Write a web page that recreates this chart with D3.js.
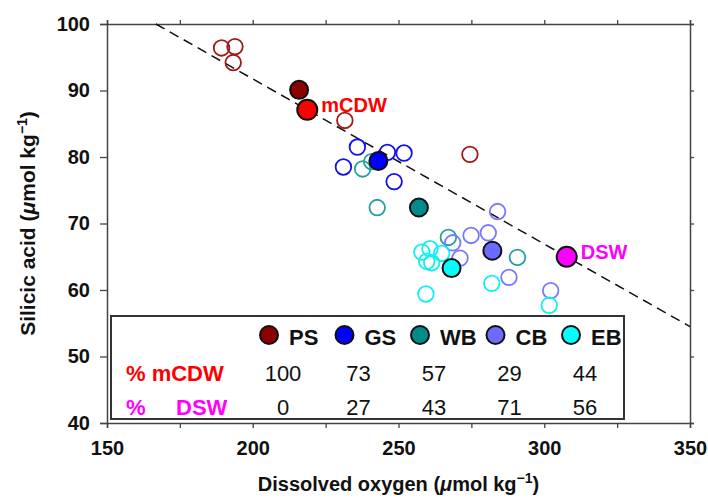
<!DOCTYPE html>
<html>
<head>
<meta charset="utf-8">
<script src="https://cdn.jsdelivr.net/npm/d3@7"></script>
<style>
  body { margin: 0; background: #fff; }
  text { font-family: "Liberation Sans", Arial, sans-serif; }
</style>
</head>
<body>
<script>
// data
var groups = ["PS", "GS", "WB", "CB", "EB"];
var psSamples = [[189.3, 96.4], [193.9, 96.6], [193.3, 94.2], [231.6, 85.5], [274.5, 80.4]];
var gsSamples = [[235.9, 81.5], [246.2, 80.7], [251.9, 80.6], [231.1, 78.5], [248.5, 76.3]];
var wbSamples = [[237.7, 78.2], [240.8, 79.3], [242.7, 72.4], [267.1, 67.9], [290.8, 64.9]];
var cbSamples = [[284.0, 71.8], [268.6, 67.1], [274.9, 68.2], [280.8, 68.6], [271.1, 64.8], [287.9, 61.9], [302.2, 59.9]];
var ebSamples = [[258.0, 65.7], [260.8, 66.2], [259.7, 64.3], [261.4, 64.1], [264.8, 65.5], [259.4, 59.4], [282.0, 61.0], [301.7, 57.7]];
var groupMeans = [[215.9, 90.1], [243.1, 79.4], [257.0, 72.4], [282.2, 65.9], [268.2, 63.3]];
var endMemberNames = ["mCDW", "DSW"];
var endMemberValues = [[218.7, 87.1], [307.7, 65.0]];
var pctMCDW = [100, 73, 57, 29, 44];
var pctDSW = [0, 27, 43, 71, 56];
var xTicks = [150, 175, 200, 225, 250, 275, 300, 325, 350];
var yTicks = [40, 50, 60, 70, 80, 90, 100];

// styles
var fillColors = ["#8b0000", "#0000ff", "#008b8b", "#6b6bff", "#00ffff"];
var openColors = ["#a31818", "#1010f0", "#25a0a0", "#7878ff", "#10f0f0"];
var endColors = ["#ff0000", "#ff00ff"];

var W = 708, H = 498;
var margin = {top: 24, right: 18, bottom: 75, left: 107},
    width = W - margin.left - margin.right,
    height = H - margin.top - margin.bottom;

var svg = d3.select("body").append("svg")
    .attr("width", W)
    .attr("height", H);
var g = svg.append("g")
    .attr("transform", "translate(" + margin.left + "," + margin.top + ")");

var x = d3.scaleLinear().domain([150, 350]).range([0, width]);
var y = d3.scaleLinear().domain([40, 100]).range([height, 0]);

var axisColor = "#444";

// axes
var bottom = g.append("g").attr("transform", "translate(0," + height + ")")
  .call(d3.axisBottom(x).tickValues(xTicks).tickSize(5).tickPadding(13)
    .tickFormat(function(d) { return d % 50 === 0 ? d : ""; }));
var top_ = g.append("g")
  .call(d3.axisTop(x).tickValues(xTicks).tickSize(4).tickFormat(""));
var left = g.append("g")
  .call(d3.axisLeft(y).tickValues(yTicks).tickSize(7).tickPadding(10));
var right = g.append("g").attr("transform", "translate(" + width + ",0)")
  .call(d3.axisRight(y).tickValues(yTicks).tickSize(4).tickFormat(""));

[bottom, top_, left, right].forEach(function(a) {
  a.select(".domain").attr("stroke", axisColor).attr("stroke-width", 1.5);
  a.selectAll(".tick line").attr("stroke", axisColor).attr("stroke-width", 1.3);
  a.selectAll(".tick text")
    .attr("fill", "#111")
    .style("font-family", "'Liberation Sans', Arial, sans-serif")
    .style("font-size", "20px")
    .style("font-weight", "bold");
});

// axis titles
function unitTitle(sel, label) {
  sel.append("tspan").text(label + " (");
  sel.append("tspan").style("font-style", "italic").text("\u03bc");
  sel.append("tspan").text("mol kg");
  sel.append("tspan").attr("dy", -8).style("font-size", "14px").text("\u22121");
  sel.append("tspan").attr("dy", 8).text(")");
}

var xt = svg.append("text")
  .attr("x", margin.left + width / 2)
  .attr("y", 491)
  .attr("text-anchor", "middle")
  .style("font-size", "20px").style("font-weight", "bold").attr("fill", "#111");
unitTitle(xt, "Dissolved oxygen");

var yt = svg.append("text")
  .attr("transform", "translate(35," + (margin.top + height / 2) + ") rotate(-90)")
  .attr("text-anchor", "middle")
  .style("font-size", "21px").style("font-weight", "bold").attr("fill", "#111");
unitTitle(yt, "Silicic acid");

// mixing line through the two end members, clipped to the plot frame
var p1 = endMemberValues[0], p2 = endMemberValues[1];
var slope = (p2[1] - p1[1]) / (p2[0] - p1[0]);
var xStart = p1[0] + (100 - p1[1]) / slope;
var xEnd = 350;
g.append("line")
  .attr("x1", x(xStart)).attr("y1", y(100))
  .attr("x2", x(xEnd)).attr("y2", y(p1[1] + slope * (xEnd - p1[0])))
  .attr("stroke", "#111")
  .attr("stroke-width", 1.5)
  .attr("stroke-dasharray", "10,6");

// open sample circles
var samples = [psSamples, gsSamples, wbSamples, cbSamples, ebSamples];
samples.forEach(function(set, i) {
  g.selectAll(".open" + i)
    .data(set)
    .enter().append("circle")
    .attr("class", "open" + i)
    .attr("cx", function(d) { return x(d[0]); })
    .attr("cy", function(d) { return y(d[1]); })
    .attr("r", 7.8)
    .attr("fill", "none")
    .attr("stroke", openColors[i])
    .attr("stroke-width", 1.8);
});

// group means
g.selectAll(".mean")
  .data(groupMeans)
  .enter().append("circle")
  .attr("class", "mean")
  .attr("cx", function(d) { return x(d[0]); })
  .attr("cy", function(d) { return y(d[1]); })
  .attr("r", 9)
  .attr("fill", function(d, i) { return fillColors[i]; })
  .attr("stroke", "#111")
  .attr("stroke-width", 2);

// end members
g.selectAll(".end")
  .data(endMemberValues)
  .enter().append("circle")
  .attr("class", "end")
  .attr("cx", function(d) { return x(d[0]); })
  .attr("cy", function(d) { return y(d[1]); })
  .attr("r", 10)
  .attr("fill", function(d, i) { return endColors[i]; })
  .attr("stroke", "#111")
  .attr("stroke-width", 2);

g.selectAll(".endlabel")
  .data(endMemberValues)
  .enter().append("text")
  .attr("x", function(d) { return x(d[0]) + 14; })
  .attr("y", function(d) { return y(d[1]) + 2; })
  .text(function(d, i) { return endMemberNames[i]; })
  .attr("fill", function(d, i) { return endColors[i]; })
  .style("font-size", "20px")
  .style("font-weight", "bold");

// legend table
var box = svg.append("g");
box.append("rect")
  .attr("x", 111).attr("y", 316)
  .attr("width", 513).attr("height", 103)
  .attr("fill", "#fff")
  .attr("stroke", "#333")
  .attr("stroke-width", 2);

var col = d3.scalePoint().domain(groups).range([283, 585]);

box.selectAll(".lgdot")
  .data(groups)
  .enter().append("circle")
  .attr("cx", function(d) { return col(d) - 14; })
  .attr("cy", 335)
  .attr("r", 9)
  .attr("fill", function(d, i) { return fillColors[i]; })
  .attr("stroke", "#111")
  .attr("stroke-width", 2);

box.selectAll(".lgname")
  .data(groups)
  .enter().append("text")
  .attr("x", function(d) { return col(d) + 6; })
  .attr("y", 345)
  .text(function(d) { return d; })
  .attr("fill", "#111")
  .style("font-size", "22px")
  .style("font-weight", "bold");

box.append("text")
  .attr("x", 126).attr("y", 381)
  .attr("fill", "#ff0000")
  .style("font-size", "22px").style("font-weight", "bold")
  .text("% mCDW");
box.append("text")
  .attr("x", 126).attr("y", 415)
  .attr("fill", "#ff00ff")
  .style("font-size", "22px").style("font-weight", "bold")
  .text("%");
box.append("text")
  .attr("x", 176).attr("y", 415)
  .attr("fill", "#ff00ff")
  .style("font-size", "22px").style("font-weight", "bold")
  .text("DSW");

box.selectAll(".pm")
  .data(pctMCDW)
  .enter().append("text")
  .attr("x", function(d, i) { return col(groups[i]); })
  .attr("y", 381)
  .attr("text-anchor", "middle")
  .attr("fill", "#111")
  .style("font-size", "22px")
  .text(function(d) { return d; });

box.selectAll(".pd")
  .data(pctDSW)
  .enter().append("text")
  .attr("x", function(d, i) { return col(groups[i]); })
  .attr("y", 415)
  .attr("text-anchor", "middle")
  .attr("fill", "#111")
  .style("font-size", "22px")
  .text(function(d) { return d; });
</script>
</body>
</html>
